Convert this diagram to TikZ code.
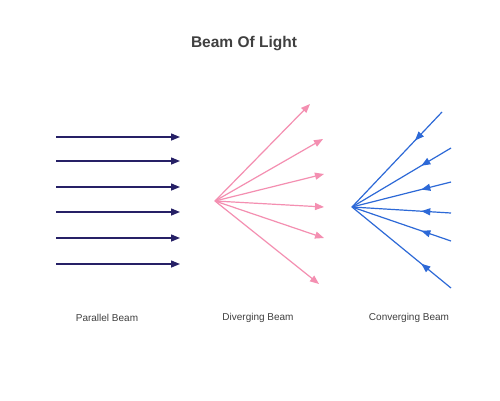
\documentclass[tikz,border=0pt]{standalone}
\usepackage{fontspec}
\setmainfont{Liberation Sans}
\usetikzlibrary{arrows.meta,positioning}
\usetikzlibrary{decorations.markings}
\definecolor{navyray}{RGB}{38,32,102}
\definecolor{pinkray}{RGB}{244,143,177}
\definecolor{blueray}{RGB}{45,105,215}
\tikzset{
        labeltext/.style={align=center,inner sep=0pt,text=black!75},
        % Title
        title_text/.style={labeltext, font=\bfseries\fontsize{15.5}{18}\selectfont},
        % Beam names
        beam_text/.style={labeltext, font=\fontsize{10}{12}\selectfont},
        % Parallel rays
        ray_parallel/.style={navyray, line width=1.4pt, -{Triangle[length=9pt,width=7pt]}},
        % Diverging rays
        ray_diverging/.style={pinkray, line width=1.2pt, -{Triangle[length=9pt,width=7pt]}},
        % Converging rays
        ray_converging/.style={blueray, line width=1.2pt,
            postaction={decorate},
            decoration={markings, mark=at position 0.3 with {\arrow{Triangle[length=9pt,width=7pt]}}}}
}

\begin{document}
\begin{tikzpicture}[x=1pt, y=-1pt]
    \useasboundingbox[fill=white] (0,0) rectangle (500,400);
    \node[title_text] (title) at (244,44) {Beam Of Light};

    % Parallel beam
    \coordinate (p1s) at (56,137); \coordinate (p1e) at (180,137);
    \coordinate (p2s) at (56,161); \coordinate (p2e) at (180,161);
    \coordinate (p3s) at (56,187); \coordinate (p3e) at (180,187);
    \coordinate (p4s) at (56,212); \coordinate (p4e) at (180,212);
    \coordinate (p5s) at (56,238); \coordinate (p5e) at (180,238);
    \coordinate (p6s) at (56,264); \coordinate (p6e) at (180,264);
    \draw[ray_parallel] (p1s) -- (p1e);
    \draw[ray_parallel] (p2s) -- (p2e);
    \draw[ray_parallel] (p3s) -- (p3e);
    \draw[ray_parallel] (p4s) -- (p4e);
    \draw[ray_parallel] (p5s) -- (p5e);
    \draw[ray_parallel] (p6s) -- (p6e);
    \node[beam_text] (parallel) at (107,318) {Parallel Beam};

    % Diverging beam
    \coordinate (dsrc) at (215,201);
    \coordinate (d1) at (310,104);
    \coordinate (d2) at (323,139);
    \coordinate (d3) at (324,174);
    \coordinate (d4) at (324,207);
    \coordinate (d5) at (324,238);
    \coordinate (d6) at (319,284);
    \draw[ray_diverging] (dsrc) -- (d1);
    \draw[ray_diverging] (dsrc) -- (d2);
    \draw[ray_diverging] (dsrc) -- (d3);
    \draw[ray_diverging] (dsrc) -- (d4);
    \draw[ray_diverging] (dsrc) -- (d5);
    \draw[ray_diverging] (dsrc) -- (d6);
    \node[beam_text] (diverging) at (258,318) {Diverging Beam};

    % Converging beam
    \coordinate (cfoc) at (352,207);
    \coordinate (c1) at (442,112);
    \coordinate (c2) at (451,148);
    \coordinate (c3) at (451,182);
    \coordinate (c4) at (451,213);
    \coordinate (c5) at (451,241);
    \coordinate (c6) at (451,288);
    \draw[ray_converging] (c1) -- (cfoc);
    \draw[ray_converging] (c2) -- (cfoc);
    \draw[ray_converging] (c3) -- (cfoc);
    \draw[ray_converging] (c4) -- (cfoc);
    \draw[ray_converging] (c5) -- (cfoc);
    \draw[ray_converging] (c6) -- (cfoc);
    \node[beam_text] (converging) at (409,318) {Converging Beam};
\end{tikzpicture}
\end{document}
